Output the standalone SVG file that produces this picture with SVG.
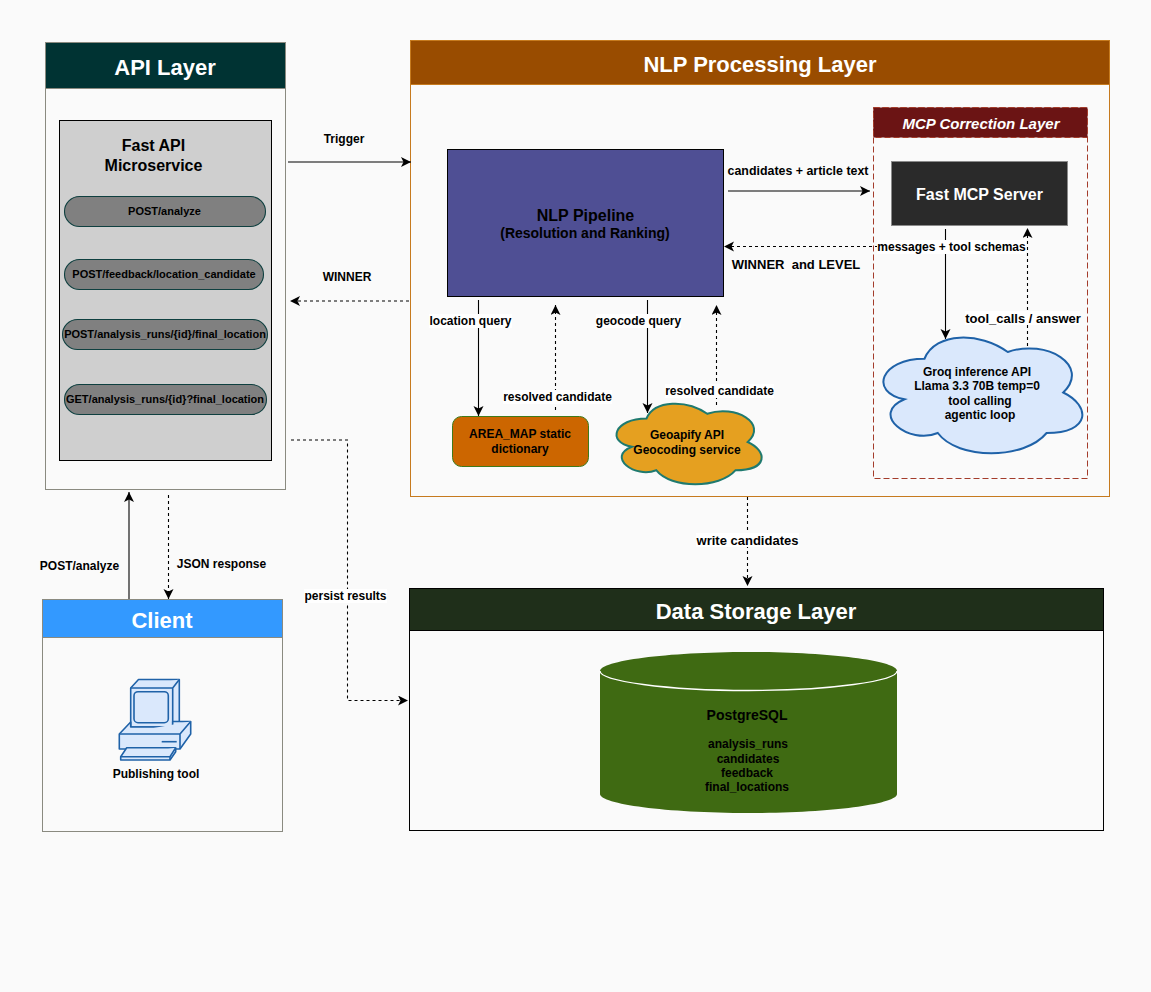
<svg xmlns="http://www.w3.org/2000/svg" width="1151" height="992" viewBox="0 0 1151 992">
<style>
text{font-family:"Liberation Sans",Arial,sans-serif;font-weight:700;text-anchor:middle;fill:#000}
.t{font-size:22px;fill:#fff}
.s{font-size:11px}
.l{font-size:12px}
.m{font-size:13px}
.bg{fill:#fff}
.c{fill:none;stroke:#000;stroke-width:1.1}
.d{stroke-dasharray:3 3}
.a{marker-end:url(#arr)}
.pill{fill:#808080;stroke:#0f4040;stroke-width:1.1}
.ic{fill:#dae8fc;stroke:#1f62a8;stroke-width:1.6;stroke-linejoin:round}
</style>
<defs>
<marker id="arr" markerUnits="userSpaceOnUse" markerWidth="12" markerHeight="12" refX="10" refY="5" orient="auto">
<path d="M0 0L10 5L0 10L2.5 5Z" fill="#000"/>
</marker>
</defs>
<rect width="1151" height="992" fill="#fafafa"/>
<g id="api-layer">
<rect x="45.5" y="42.5" width="240" height="447" fill="#fafafa" stroke="#8a8a80"/>
<rect x="45.5" y="42.5" width="240" height="46" fill="#003333" stroke="#8a8a80"/>
<text class="t" x="165" y="75">API Layer</text>
</g>
<g id="fastapi">
<rect x="59.5" y="120.5" width="212" height="340" fill="#cfcfcf" stroke="#000"/>
<text x="153.500" y="151" font-size="16">Fast API</text>
<text x="153.500" y="171" font-size="16">Microservice</text>
</g>
<g id="ep-analyze"><rect class="pill" x="64.5" y="196.5" width="201" height="30" rx="15"/><text class="s" x="164.500" y="215">POST/analyze</text></g>
<g id="ep-feedback"><rect class="pill" x="64.5" y="259.5" width="199" height="30" rx="15"/><text class="s" x="164" y="278">POST/feedback/location_candidate</text></g>
<g id="ep-final-post"><rect class="pill" x="62.5" y="319.500" width="205" height="30" rx="15"/><text class="s" x="165" y="338">POST/analysis_runs/{id}/final_location</text></g>
<g id="ep-final-get"><rect class="pill" x="64.5" y="384.5" width="202" height="30" rx="15"/><text class="s" x="165" y="403">GET/analysis_runs/{id}?final_location</text></g>

<g id="nlp-layer">
<rect x="410.5" y="40.5" width="699" height="456" fill="#fafafa" stroke="#c67a1e"/>
<rect x="410.5" y="40.5" width="699" height="44" fill="#994c00" stroke="#c67a1e"/>
<text class="t" x="760" y="72">NLP Processing Layer</text>
</g>
<g id="mcp-layer">
<rect x="873.5" y="107.5" width="214" height="371" fill="none" stroke="#a33b2a" stroke-dasharray="6 3"/>
<rect x="873.5" y="107.5" width="214" height="30" fill="#6b1414" stroke="#a33b2a" stroke-dasharray="6 3"/>
<text x="981" y="129" font-size="15" font-style="italic" style="fill:#fff">MCP Correction Layer</text>
</g>
<g id="nlp-pipeline">
<rect x="447.5" y="149.5" width="276" height="147" fill="#4f4f94" stroke="#000"/>
<text x="585.500" y="221" font-size="16">NLP Pipeline</text>
<text x="585" y="238" font-size="14">(Resolution and Ranking)</text>
</g>
<g id="mcp-server">
<rect x="891.500" y="161.5" width="176" height="64" fill="#2a2a2a" stroke="#8a8a8a"/>
<text x="979.500" y="200" font-size="16" style="fill:#fff">Fast MCP Server</text>
</g>
<g id="area-map">
<rect x="452.5" y="416.5" width="136" height="50" rx="9" fill="#cc6600" stroke="#3f7a1a"/>
<text class="l" x="520" y="438">AREA_MAP static</text>
<text class="l" x="520" y="453">dictionary</text>
</g>
<g id="geoapify">
<path d="M646.5 418.5C614.1 418.500 606 442 631.9 446.7C606 457 635.2 478.7 656.200 470.2C670.8 489 719.4 489 735.600 470.2C768 470.2 768 451.400 747.75 442C768 423.2 735.6 404.4 707.25 413.8C687 399.7 654.6 399.7 646.5 418.5Z" fill="#e5a020" stroke="#1f7a6f" stroke-width="2"/>
<text class="l" x="687" y="439">Geoapify API</text>
<text class="l" x="687" y="454">Geocoding service</text>
</g>
<g id="groq">
<path d="M924.5 358.75C880.1 358.75 869 392.5 904.5 399.25C869 414.1 909 445.15 937.8 433C957.8 460 1024.4 460 1046.6 433C1091 433 1091 406 1063.25 392.5C1091 365.5 1046.6 338.5 1007.75 352C980 331.75 935.6 331.75 924.5 358.75Z" fill="#dae8fc" stroke="#1f62a8" stroke-width="2"/>
<text class="l" x="977" y="376">Groq inference API</text>
<text class="l" x="977" y="390">Llama 3.3 70B temp=0</text>
<text class="l" x="980" y="405">tool calling</text>
<text class="l" x="980" y="419">agentic loop</text>
</g>

<g id="data-layer">
<rect x="409.5" y="588.5" width="694" height="242" fill="#fafafa" stroke="#000"/>
<rect x="409.5" y="588.5" width="694" height="42" fill="#1f2f1a" stroke="#000"/>
<text class="t" x="756" y="619">Data Storage Layer</text>
</g>
<g id="postgres">
<path d="M600 671C600 661 666 652 748.500 652C831 652 897 661 897 671V794C897 804 831 813 748.500 813C666 813 600 804 600 794Z" fill="#3f6a12"/>
<path d="M600 671C600 681 666 690.500 748.500 690.500C831 690.500 897 681 897 671" fill="none" stroke="#fff" stroke-width="1.3"/>
<text x="747" y="720" font-size="14">PostgreSQL</text>
<text class="l" x="748" y="748">analysis_runs</text>
<text class="l" x="748" y="763">candidates</text>
<text class="l" x="747" y="777">feedback</text>
<text class="l" x="747" y="791">final_locations</text>
</g>

<g id="client">
<rect x="42.5" y="599.500" width="240" height="232" fill="#fafafa" stroke="#8a8a80"/>
<rect x="42.5" y="599.500" width="240" height="38" fill="#3399ff" stroke="#8a8a80"/>
<text class="t" x="162" y="628">Client</text>
<g id="computer">
<path class="ic" d="M130.700 688L138.500 679.500H179.300V721.500L172.700 727H130.700Z"/>
<path class="ic" d="M130.700 688H172.700L179.300 679.500M172.700 688V727" fill="none"/>
<rect class="ic" x="134" y="691.700" width="34.300" height="31" rx="4"/>
<path class="ic" d="M130.700 722L119.300 734V749H180L190.700 734V721.500H172.700V727H130.700Z"/>
<path class="ic" d="M119.300 734H180L190.700 721.500M180 734V749" fill="none"/>
<path d="M161.700 741.700H176.700" stroke="#1f62a8" stroke-width="1.600"/>
<path class="ic" d="M120.700 756.700L126.700 747.700H175.700V751.700L170 760H120.700Z"/>
<path class="ic" d="M120.700 756.700H170L175.700 747.700M170 756.700V760" fill="none"/>
</g>
<text class="l" x="156" y="778">Publishing tool</text>
</g>

<g id="connectors">
<path class="c a" d="M288 162H411"/>
<path class="c d a" d="M409 301H290"/>
<path class="c d a" d="M291 440H347.500V700.500H408"/>
<path class="c a" d="M129 599V492"/>
<path class="c d a" d="M168.500 495V599"/>
<path class="c d a" d="M747.500 497V586"/>
<path class="c a" d="M728 191H870"/>
<path class="c d a" d="M878 246.500H724"/>
<path class="c a" d="M945.500 229V339"/>
<path class="c d a" d="M1027.500 346V228"/>
<path class="c a" d="M478.500 300V416"/>
<path class="c d a" d="M555.500 410V305"/>
<path class="c a" d="M647.500 300V413"/>
<path class="c d a" d="M716.500 405V305"/>
</g>
<g id="labels">
<text class="l" x="344" y="143">Trigger</text>
<text class="l" x="347" y="281">WINNER</text>
<rect class="bg" x="304" y="589" width="83" height="14"/>
<text class="l" x="345.500" y="600">persist results</text>
<text class="l" x="79.500" y="570">POST/analyze</text>
<text class="l" x="221.500" y="568">JSON response</text>
<rect class="bg" x="696" y="533" width="103" height="14"/>
<text class="m" x="747.500" y="545">write candidates</text>
<text x="798" y="175" font-size="12.400">candidates + article text</text>
<text class="m" x="796" y="269" style="white-space:pre">WINNER  and LEVEL</text>
<rect class="bg" x="877" y="240" width="149" height="14"/>
<text class="l" x="951.500" y="251">messages + tool schemas</text>
<rect class="bg" x="965" y="311" width="115" height="14"/>
<text class="m" x="1023" y="323">tool_calls / answer</text>
<rect class="bg" x="429" y="314" width="83" height="14"/>
<text class="l" x="470.500" y="325">location query</text>
<rect class="bg" x="596" y="314" width="85" height="14"/>
<text class="l" x="638.500" y="325">geocode query</text>
<rect class="bg" x="503" y="390" width="109" height="14"/>
<text class="l" x="557.500" y="401">resolved candidate</text>
<rect class="bg" x="665" y="384" width="109" height="14"/>
<text class="l" x="719.500" y="395">resolved candidate</text>
</g>
</svg>
